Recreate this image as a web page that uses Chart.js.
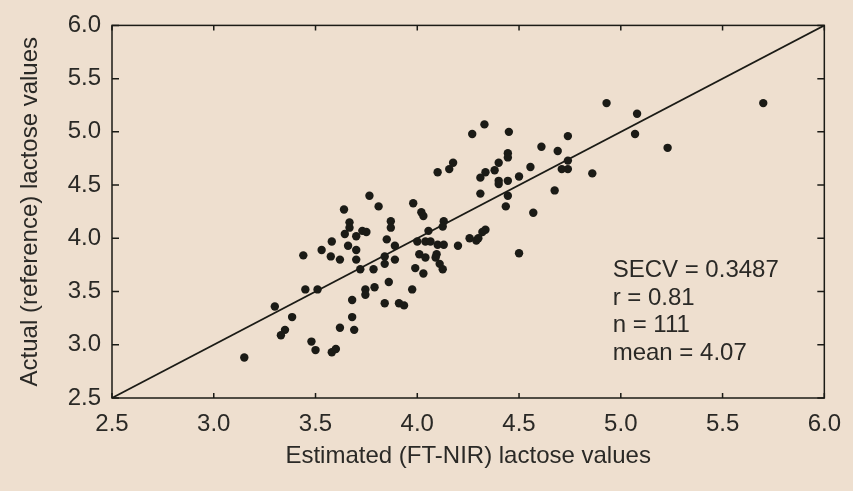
<!DOCTYPE html>
<html lang="en">
<head>
    <meta charset="UTF-8">
    <title>Estimated vs actual lactose</title>
    <script src="https://cdn.jsdelivr.net/npm/chart.js@4.4.1/dist/chart.umd.min.js"></script>
    <style>
        html, body { margin: 0; padding: 0; background: #eedfcf; }
        .chart-box { position: relative; width: 853px; height: 491px; }
    </style>
</head>
<body>
    <div class="chart-box"><canvas id="lactoseChart"></canvas></div>

    <script>
        // Estimated (FT-NIR) values, x axis
        const estimated = [
            3.15, 3.30, 3.385, 3.35, 3.33, 3.44, 3.45, 3.51, 3.53, 3.48,
            3.50, 3.58, 3.60, 3.72, 3.785, 3.84, 3.86, 3.745, 3.745, 3.79,
            3.68, 3.68, 3.62, 3.69, 3.84, 3.91, 3.935, 3.765, 3.64, 3.81,
            3.667, 3.667, 3.644, 3.70, 3.73, 3.75, 3.87, 3.87, 3.58, 3.66,
            3.70, 3.575, 3.62, 3.70, 3.85, 3.89, 3.84, 3.89, 4.27, 4.33,
            4.10, 4.157, 4.176, 4.335, 4.31, 4.31, 3.98, 4.02, 4.03, 4.13,
            4.125, 4.055, 4.335, 4.32, 4.00, 4.04, 4.065, 4.10, 4.13, 4.20,
            4.257, 4.29, 4.30, 4.01, 4.04, 4.095, 4.09, 3.99, 4.03, 4.11,
            4.125, 3.975, 4.93, 5.07, 5.08, 4.45, 4.74, 4.61, 4.69, 4.445,
            4.445, 4.40, 4.38, 4.556, 4.50, 4.40, 4.445, 4.40, 4.74, 4.71,
            4.74, 4.86, 4.445, 4.675, 4.435, 4.57, 4.50, 5.70, 5.23
        ];
        // Actual (reference) values, y axis
        const actual = [
            2.88, 3.36, 3.26, 3.14, 3.09, 3.84, 3.52, 3.52, 3.89, 3.03,
            2.95, 2.93, 2.96, 3.71, 3.71, 3.76, 3.59, 3.52, 3.47, 3.54,
            3.42, 3.26, 3.16, 3.14, 3.39, 3.39, 3.37, 4.40, 4.27, 4.30,
            4.15, 4.10, 4.04, 4.02, 4.07, 4.06, 4.16, 4.10, 3.97, 3.93,
            3.89, 3.83, 3.80, 3.80, 3.99, 3.93, 3.83, 3.80, 4.98, 5.07,
            4.62, 4.65, 4.71, 4.62, 4.57, 4.42, 4.33, 4.245, 4.21, 4.16,
            4.11, 4.07, 4.08, 4.06, 3.97, 3.97, 3.97, 3.94, 3.94, 3.93,
            4.00, 3.98, 4.00, 3.85, 3.82, 3.85, 3.82, 3.72, 3.67, 3.76,
            3.71, 3.52, 5.27, 4.98, 5.17, 5.00, 4.96, 4.86, 4.82, 4.80,
            4.76, 4.71, 4.64, 4.67, 4.58, 4.54, 4.54, 4.51, 4.73, 4.65,
            4.65, 4.61, 4.40, 4.45, 4.30, 4.24, 3.86, 5.27, 4.85
        ];
        const axisTicks = [2.5, 3.0, 3.5, 4.0, 4.5, 5.0, 5.5, 6.0];
        const identityLine = [2.5, 6.0];
        const statsText = ['SECV = 0.3487', 'r = 0.81', 'n = 111', 'mean = 4.07'];

        const ink = '#1b1b16';
        const textColor = '#2a2926';
        const fontFamily = '"Liberation Sans", Arial, sans-serif';

        const points = estimated.map((v, i) => ({ x: v, y: actual[i] }));
        const linePoints = identityLine.map(v => ({ x: v, y: v }));

        // frame, inward tick marks and the stats block
        const framePlugin = {
            id: 'frame',
            beforeDraw(chart) {
                const ctx = chart.ctx;
                ctx.save();
                ctx.fillStyle = '#eedfcf';
                ctx.fillRect(0, 0, chart.width, chart.height);
                ctx.restore();
            },
            afterDatasetsDraw(chart) {
                const { ctx, chartArea: a, scales: { x, y } } = chart;
                ctx.save();
                ctx.strokeStyle = ink;
                ctx.lineWidth = 1.5;
                ctx.strokeRect(a.left, a.top, a.right - a.left, a.bottom - a.top);
                ctx.beginPath();
                axisTicks.forEach(v => {
                    const px = x.getPixelForValue(v);
                    ctx.moveTo(px, a.bottom); ctx.lineTo(px, a.bottom - 5);
                    ctx.moveTo(px, a.top); ctx.lineTo(px, a.top + 5);
                    const py = y.getPixelForValue(v);
                    ctx.moveTo(a.left, py); ctx.lineTo(a.left + 7, py);
                    ctx.moveTo(a.right, py); ctx.lineTo(a.right - 7, py);
                });
                ctx.stroke();

                ctx.font = '24px ' + fontFamily;
                ctx.fillStyle = textColor;
                ctx.textBaseline = 'middle';
                const tx = x.getPixelForValue(4.96);
                const ty = y.getPixelForValue(3.70);
                statsText.forEach((s, i) => ctx.fillText(s, tx, ty + i * 27.8));
                ctx.restore();
            }
        };

        const tickFont = { family: fontFamily, size: 24 };

        new Chart(document.getElementById('lactoseChart'), {
            type: 'scatter',
            data: {
                datasets: [
                    {
                        data: points,
                        backgroundColor: ink,
                        borderWidth: 0,
                        pointRadius: 4.2,
                        pointHoverRadius: 4.2
                    },
                    {
                        data: linePoints,
                        showLine: true,
                        borderColor: ink,
                        borderWidth: 1.7,
                        pointRadius: 0,
                        fill: false
                    }
                ]
            },
            options: {
                responsive: true,
                maintainAspectRatio: false,
                animation: false,
                layout: { padding: { top: 17, right: 20, bottom: 0, left: 0 } },
                plugins: {
                    legend: { display: false },
                    tooltip: { enabled: false }
                },
                scales: {
                    x: {
                        type: 'linear',
                        min: 2.5,
                        max: 6.0,
                        afterBuildTicks: s => { s.ticks = axisTicks.map(v => ({ value: v })); },
                        afterFit: s => { s.height = 93; },
                        grid: { display: false, drawTicks: false },
                        border: { display: false },
                        ticks: {
                            padding: 12,
                            color: textColor,
                            font: tickFont,
                            maxRotation: 0,
                            callback: v => Number(v).toFixed(1)
                        },
                        title: {
                            display: true,
                            text: 'Estimated (FT-NIR) lactose values',
                            color: textColor,
                            font: tickFont,
                            padding: { top: 0, bottom: 20 }
                        }
                    },
                    y: {
                        type: 'linear',
                        min: 2.5,
                        max: 6.0,
                        afterBuildTicks: s => { s.ticks = axisTicks.map(v => ({ value: v })); },
                        afterFit: s => { s.width = 112; },
                        grid: { display: false, drawTicks: false },
                        border: { display: false },
                        ticks: {
                            padding: 11,
                            color: textColor,
                            font: tickFont,
                            callback: v => Number(v).toFixed(1)
                        },
                        title: {
                            display: true,
                            text: 'Actual (reference) lactose values',
                            color: textColor,
                            font: tickFont,
                            padding: { top: 16, bottom: 0 }
                        }
                    }
                }
            },
            plugins: [framePlugin]
        });
    </script>
</body>
</html>
